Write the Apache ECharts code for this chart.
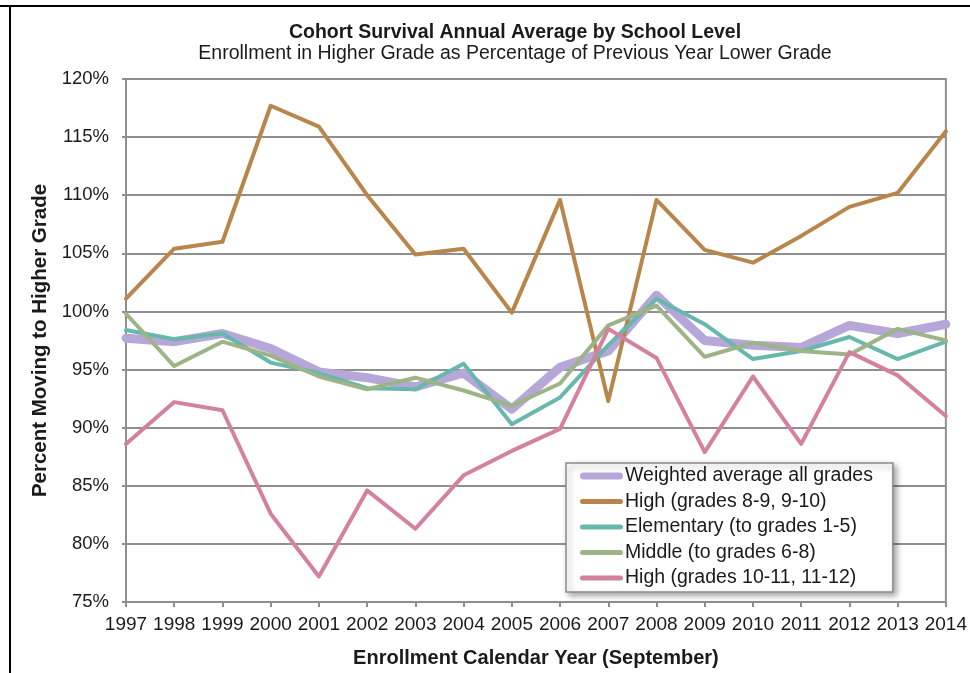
<!DOCTYPE html>
<html>
<head>
<meta charset="utf-8">
<script src="https://cdn.jsdelivr.net/npm/echarts@6/dist/echarts.min.js"></script>
<style>
html,body{margin:0;padding:0;background:#fff;overflow:hidden;}
#chart{width:970px;height:673px;}
</style>
</head>
<body>
<div id="chart"></div>
<script>
const years = ['1997','1998','1999','2000','2001','2002','2003','2004','2005','2006','2007','2008','2009','2010','2011','2012','2013','2014'];
const weighted   = [97.7, 97.4, 98.1, 96.8, 94.8, 94.3, 93.5, 94.7, 91.6, 95.2, 96.6, 101.4, 97.5, 97.1, 96.9, 98.8, 98.1, 98.9];
const high89     = [101.1, 105.4, 106.0, 117.7, 115.9, 110.0, 104.9, 105.4, 99.9, 109.6, 92.3, 109.6, 105.3, 104.2, 106.5, 109.0, 110.2, 115.5];
const elementary = [98.4, 97.6, 98.1, 95.6, 94.7, 93.4, 93.3, 95.5, 90.3, 92.6, 97.1, 101.1, 98.9, 95.9, 96.6, 97.8, 95.9, 97.4];
const middle     = [99.8, 95.3, 97.4, 96.2, 94.4, 93.3, 94.3, 93.2, 91.9, 93.8, 98.8, 100.5, 96.1, 97.3, 96.6, 96.3, 98.5, 97.5];
const high1011   = [88.6, 92.2, 91.5, 82.6, 77.2, 84.6, 81.3, 85.9, 88.0, 89.9, 98.5, 96.0, 87.9, 94.4, 88.6, 96.5, 94.5, 91.0];
const seriesNames = ['Weighted average all grades','High (grades 8-9, 9-10)','Elementary (to grades 1-5)','Middle (to grades 6-8)','High (grades 10-11, 11-12)'];
const yTicks = {min: 75, max: 120, interval: 5};

const FONT = '"Liberation Sans", Arial, sans-serif';
const chart = echarts.init(document.getElementById('chart'));
function mk(name, data, color, width){
  return {name:name, type:'line', data:data, symbol:'none', smooth:false,
    lineStyle:{color:color, width:width, cap:'round', join:'round'}, itemStyle:{color:color}};
}
const thickIcon = 'path://M3.5,0H39.5A3.5,3.5 0 0 1 39.5,7H3.5A3.5,3.5 0 0 1 3.5,0Z';
const thinIcon = 'path://M2.5,0H40.5A2.5,2.5 0 0 1 40.5,5H2.5A2.5,2.5 0 0 1 2.5,0Z';
chart.setOption({
  animation:false,
  backgroundColor:'#fff',
  title:[
    {text:'Cohort Survival Annual Average by School Level', left:510, top:18, textAlign:'center',
     textStyle:{fontFamily:FONT, fontSize:19.5, fontWeight:'bold', color:'#1a1a1a'}},
    {text:'Enrollment in Higher Grade as Percentage of Previous Year Lower Grade', left:510, top:39, textAlign:'center',
     textStyle:{fontFamily:FONT, fontSize:19.5, fontWeight:'normal', color:'#1a1a1a'}}
  ],
  graphic:[
    {type:'rect', shape:{x:0, y:5, width:970, height:2}, style:{fill:'#000'}, silent:true},
    {type:'rect', shape:{x:9, y:5, width:2, height:668}, style:{fill:'#000'}, silent:true}
  ],
  grid:{left:126, right:20, top:79, bottom:70, show:true, borderColor:'#8f8f8f', borderWidth:2, backgroundColor:'transparent'},
  legend:{
    orient:'vertical', left:566, top:463,
    data:[
      {name:seriesNames[0], icon:thickIcon},
      {name:seriesNames[1], icon:thinIcon},
      {name:seriesNames[2], icon:thinIcon},
      {name:seriesNames[3], icon:thinIcon},
      {name:seriesNames[4], icon:thinIcon}
    ],
    backgroundColor:'#fff', borderColor:'#8a8a8a', borderWidth:1.5,
    shadowBlur:6, shadowColor:'rgba(0,0,0,0.35)', shadowOffsetX:3, shadowOffsetY:3,
    padding:[3,20,4,14], itemGap:5.5, itemWidth:43, itemHeight:14,
    textStyle:{fontFamily:FONT, fontSize:19.5, color:'#1a1a1a', padding:[0,0,0,-3], lineHeight:20}
  },
  xAxis:{
    type:'category', data:years, boundaryGap:false,
    name:'Enrollment Calendar Year (September)', nameLocation:'middle', nameGap:46,
    nameTextStyle:{fontFamily:FONT, fontSize:20, fontWeight:'bold', color:'#1a1a1a'},
    axisLine:{lineStyle:{color:'#8f8f8f', width:2}},
    axisTick:{show:true, alignWithLabel:true, length:5, lineStyle:{color:'#8f8f8f', width:2}},
    axisLabel:{fontFamily:FONT, fontSize:19, color:'#1a1a1a', margin:13, interval:0},
    splitLine:{show:false}
  },
  yAxis:{
    type:'value', min:yTicks.min, max:yTicks.max, interval:yTicks.interval,
    name:'Percent Moving to Higher Grade', nameLocation:'middle', nameGap:73, nameRotate:90,
    nameTextStyle:{fontFamily:FONT, fontSize:20.5, fontWeight:'bold', color:'#1a1a1a'},
    axisLine:{show:true, lineStyle:{color:'#8f8f8f', width:2}},
    axisTick:{show:true, length:4, lineStyle:{color:'#8f8f8f', width:2}},
    axisLabel:{fontFamily:FONT, fontSize:18.5, color:'#1a1a1a', margin:17, formatter:'{value}%'},
    splitLine:{show:true, lineStyle:{color:'#8f8f8f', width:2}}
  },
  series:[
    mk(seriesNames[0], weighted, '#B7A6D8', 9),
    mk(seriesNames[1], high89, '#B8864B', 4),
    mk(seriesNames[2], elementary, '#67B8AC', 4),
    mk(seriesNames[3], middle, '#9DB487', 4),
    mk(seriesNames[4], high1011, '#D4819F', 4)
  ]
});
</script>
</body>
</html>
